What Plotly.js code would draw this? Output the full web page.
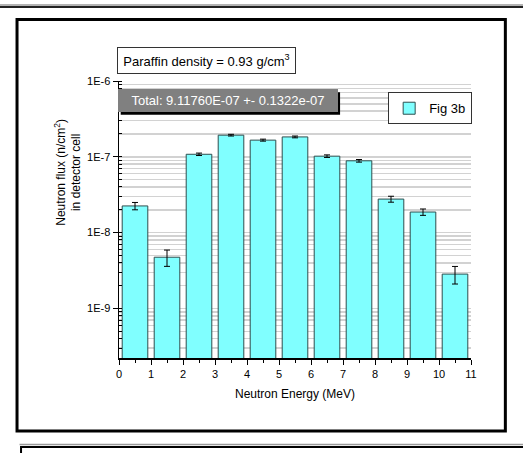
<!DOCTYPE html>
<html>
<head>
<meta charset="utf-8">
<script src="https://cdn.plot.ly/plotly-3.0.1.min.js"></script>
<style>
html,body{margin:0;padding:0;background:#fff;}
#chart{width:523px;height:453px;}
</style>
</head>
<body>
<div id="chart"></div>
<script>
// ---- data ----
const energyCenters = [0.5, 1.5, 2.5, 3.5, 4.5, 5.5, 6.5, 7.5, 8.5, 9.5, 10.5];
const fluxValues = [2.25e-8, 4.74e-9, 1.08e-7, 1.93e-7, 1.66e-7, 1.83e-7, 1.02e-7, 8.86e-8, 2.77e-8, 1.87e-8, 2.84e-9];
const fluxErrors = [0.25e-8, 1.15e-9, 0.04e-7, 0.05e-7, 0.05e-7, 0.05e-7, 0.04e-7, 0.35e-8, 0.25e-8, 0.18e-8, 0.74e-9];
const seriesName = 'Fig 3b';
const yTickVals = [1e-9, 1e-8, 1e-7, 1e-6];
const yTickText = ['1E-9', '1E-8', '1E-7', '1E-6'];
const xTickVals = [0,1,2,3,4,5,6,7,8,9,10,11];
const totalText = 'Total: 9.11760E-07 +- 0.1322e-07';
const densityText = 'Paraffin density = 0.93 g/cm<sup>3</sup>';

// ---- geometry helpers (plot area in px) ----
const W = 523, H = 453;
const L = 119.3, R = 470.7, T = 80.7, B = 358.3;
const px = x => (x - L) / (R - L);
const py = y => (B - y) / (B - T);

const FONT = 'Liberation Sans, Arial, sans-serif';
const yRange = [Math.log10(2.22e-10), -6];

const trace = {
  type: 'bar',
  x: energyCenters,
  y: fluxValues,
  width: 0.8,
  name: seriesName,
  marker: {color: '#80ffff', line: {color: '#2e4e4e', width: 1}},
  error_y: {type: 'data', array: fluxErrors, visible: true, color: '#000', thickness: 1, width: 3},
  showlegend: true
};

const gridColor = '#d2d2d2';

const layout = {
  width: W, height: H,
  autosize: false,
  margin: {l: L, r: W - R, t: T, b: H - B, pad: 0},
  paper_bgcolor: '#fff',
  plot_bgcolor: '#fff',
  font: {family: FONT, size: 11, color: '#000'},
  showlegend: true,
  legend: {
    x: px(388), y: py(92), xanchor: 'left', yanchor: 'top',
    bgcolor: '#fff', bordercolor: '#333', borderwidth: 1,
    font: {family: FONT, size: 13, color: '#000'},
    itemwidth: 30, tracegroupgap: 0
  },
  bargap: 0.2,
  xaxis: {
    range: [0, 11], tickvals: xTickVals, ticks: 'outside', ticklen: 5, tickwidth: 1, tickcolor: '#000',
    showline: true, linecolor: '#000', linewidth: 1.5, showgrid: false, zeroline: false,
    tickfont: {family: FONT, size: 11},
    minor: {dtick: 0.5, ticks: 'outside', ticklen: 3, tickcolor: '#000', showgrid: false},
    title: {text: 'Neutron Energy (MeV)', font: {family: FONT, size: 12}, standoff: 11},
    fixedrange: true
  },
  xaxis2: {
    overlaying: 'x', side: 'top', anchor: 'y', range: [0, 11], tickvals: xTickVals,
    ticks: 'inside', ticklen: 5, tickcolor: '#000', showticklabels: false,
    showline: true, linecolor: '#000', linewidth: 1.5, showgrid: false, zeroline: false,
    minor: {dtick: 0.5, ticks: 'inside', ticklen: 3, tickcolor: '#000', showgrid: false}
  },
  yaxis: {
    type: 'log', range: yRange, tickvals: yTickVals, ticktext: yTickText,
    ticks: 'outside', ticklen: 5, tickwidth: 1, tickcolor: '#000',
    showline: true, linecolor: '#000', linewidth: 1.5,
    showgrid: true, gridcolor: gridColor, gridwidth: 1.5, zeroline: false,
    tickfont: {family: FONT, size: 11},
    minor: {dtick: 'D1', ticks: 'inside', ticklen: 3, tickcolor: '#000', showgrid: true, gridcolor: gridColor, gridwidth: 1.5},
    fixedrange: true
  },
  yaxis2: {
    type: 'log', overlaying: 'y', side: 'right', anchor: 'x', range: yRange, tickvals: yTickVals,
    ticks: 'inside', ticklen: 5, tickcolor: '#000', showticklabels: false,
    showline: true, linecolor: '#000', linewidth: 1.5, showgrid: false, zeroline: false,
    minor: {dtick: 'D1', ticks: 'inside', ticklen: 3, tickcolor: '#000', showgrid: false}
  },
  shapes: [
    // top rule across the page
    {type: 'line', xref: 'paper', yref: 'paper', x0: px(0), x1: px(523), y0: py(4.5), y1: py(4.5), line: {color: '#9a9a9a', width: 1.5}},
    {type: 'line', xref: 'paper', yref: 'paper', x0: px(0), x1: px(523), y0: py(6.5), y1: py(6.5), line: {color: '#222', width: 2}},
    // outer frame
    {type: 'rect', xref: 'paper', yref: 'paper', x0: px(17.5), x1: px(505), y0: py(19), y1: py(431.5), line: {color: '#000', width: 3}},
    // next frame below
    {type: 'line', xref: 'paper', yref: 'paper', x0: px(20), x1: px(523), y0: py(445), y1: py(445), line: {color: '#9a9a9a', width: 1.5}},
    {type: 'line', xref: 'paper', yref: 'paper', x0: px(21), x1: px(523), y0: py(447.5), y1: py(447.5), line: {color: '#000', width: 2}},
    {type: 'line', xref: 'paper', yref: 'paper', x0: px(21.5), x1: px(21.5), y0: py(446.5), y1: py(460), line: {color: '#000', width: 2}},
    // shadow of the total box
    {type: 'rect', xref: 'paper', yref: 'paper', layer: 'above', x0: px(121), x1: px(340), y0: py(92), y1: py(114.5), fillcolor: '#000', line: {width: 0}}
  ],
  annotations: [
    // y-axis title
    {xref: 'paper', yref: 'paper', x: px(68), y: py(172), text: 'Neutron flux (n/cm<sup>2</sup>)<br>in detector cell',
     showarrow: false, textangle: -90, xanchor: 'center', yanchor: 'middle',
     font: {family: FONT, size: 12, color: '#000'}},
    // density label
    {xref: 'paper', yref: 'paper', x: px(117), y: py(47), xanchor: 'left', yanchor: 'top',
     text: densityText, showarrow: false, bgcolor: '#fff', bordercolor: '#333', borderwidth: 1, borderpad: 0,
     width: 177, height: 25, align: 'center', valign: 'middle',
     font: {family: FONT, size: 13, color: '#000'}},
    // total box
    {xref: 'paper', yref: 'paper', x: px(118), y: py(89), xanchor: 'left', yanchor: 'top',
     text: totalText, showarrow: false, bgcolor: '#808080', bordercolor: '#808080', borderwidth: 1, borderpad: 0,
     width: 218, height: 21, align: 'center', valign: 'middle',
     font: {family: FONT, size: 13, color: '#fff'}}
  ]
};

Plotly.newPlot('chart', [trace], layout, {displayModeBar: false, staticPlot: true});
</script>
</body>
</html>
